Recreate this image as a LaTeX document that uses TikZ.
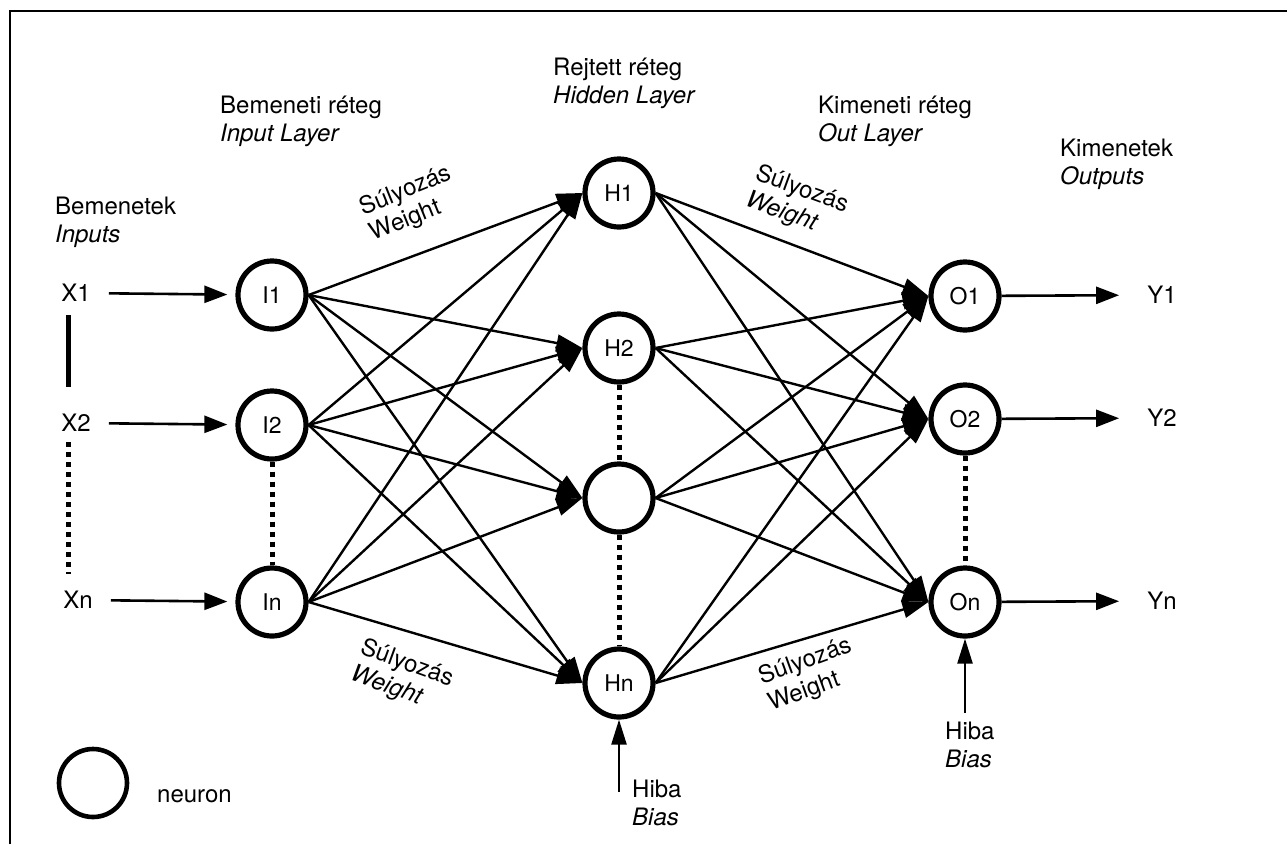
\documentclass[tikz,border=0pt]{standalone}
\usepackage{fontspec}
\setmainfont{TeX Gyre Heros}
\usetikzlibrary{arrows.meta}

\begin{document}
\begin{tikzpicture}[
  x=10pt, y=-10pt,
  font=\fontsize{24}{28}\selectfont,
  every node/.style={inner sep=0pt},
  neuron/.style = {circle, draw, line width=5.2pt, minimum size=68pt,
                   font=\fontsize{23}{28}\selectfont},
  legnd/.style  = {circle, draw, line width=4.6pt, minimum size=68pt},
  lab/.style    = {align=left, anchor=west},
  wlab/.style   = {align=left},
  wgt/.style    = {line width=2.4pt, -{Triangle[length=26pt, width=17pt]}},
  side/.style   = {line width=2.6pt, -{Triangle[length=23pt, width=17pt]}},
  bias/.style   = {line width=2.4pt, -{Triangle[length=25pt, width=15pt]}},
  dots/.style   = {line width=5pt, dash pattern=on 5pt off 5pt}
]
\useasboundingbox (0,0) rectangle (128.7, 84.4);
\draw[line width=1.5pt] (1.0, 84.4) -- (1.0, 1.1) -- (128.7, 1.1);

% layer titles
\node[lab] (inTitle)  at (5.5, 22.2)  {Bemenetek \\ \textit{Inputs}};
\node[lab] (ilTitle)  at (22.0, 12.1) {Bemeneti réteg \\ \textit{Input Layer}};
\node[lab] (hlTitle)  at (55.3, 8.3)  {Rejtett réteg \\ \textit{Hidden Layer}};
\node[lab] (olTitle)  at (81.8, 12.1) {Kimeneti réteg \\ \textit{Out Layer}};
\node[lab] (outTitle) at (106.0, 16.4) {Kimenetek \\ \textit{Outputs}};

% neurons
\node[neuron] (i1) at (27.2, 29.5) {I1};
\node[neuron] (i2) at (27.2, 42.5) {I2};
\node[neuron] (ik) at (27.2, 60.2) {In};
\node[neuron] (h1) at (61.9, 19.3) {H1};
\node[neuron] (h2) at (61.9, 34.8) {H2};
\node[neuron] (h3) at (61.9, 49.8) {};
\node[neuron] (hk) at (61.9, 68.3) {Hn};
\node[neuron] (o1) at (96.5, 29.6) {O1};
\node[neuron] (o2) at (96.5, 41.9) {O2};
\node[neuron] (ok) at (96.5, 60.2) {On};

% inputs and outputs
\node (x1) at (7.6, 29.3) {X1};
\node (x2) at (7.6, 42.3) {X2};
\node (xk) at (7.8, 60.0) {Xn};
\node (y1) at (116.2, 29.5) {Y1};
\node (y2) at (116.2, 41.8) {Y2};
\node (yk) at (116.2, 60.1) {Yn};

\draw[side, shorten <=18pt, shorten >=8pt] (x1) -- (i1);
\draw[side, shorten <=18pt, shorten >=8pt] (x2) -- (i2);
\draw[side, shorten <=18pt, shorten >=8pt] (xk) -- (ik);
\draw[side, shorten >=28pt] (o1) -- (y1);
\draw[side, shorten >=28pt] (o2) -- (y2);
\draw[side, shorten >=28pt] (ok) -- (yk);

\coordinate (barTop) at (6.8, 31.5);
\coordinate (barBot) at (6.8, 38.7);
\draw[line width=5pt] (barTop) -- (barBot);
\coordinate (dotTop) at (6.8, 44.2);
\coordinate (dotBot) at (6.8, 57.4);
\draw[dots] (dotTop) -- (dotBot);

\draw[dots] (i2.south) -- (ik.north);
\draw[dots] (h2.south) -- (h3.north);
\draw[dots] (h3.south) -- (hk.north);
\draw[dots] (o2.south) -- (ok.north);

% input layer -> hidden layer
\draw[wgt] (i1.east) -- (h1.west);
\draw[wgt] (i1.east) -- (h2.west);
\draw[wgt] (i1.east) -- (h3.west);
\draw[wgt] (i1.east) -- (hk.west);
\draw[wgt] (i2.east) -- (h1.west);
\draw[wgt] (i2.east) -- (h2.west);
\draw[wgt] (i2.east) -- (h3.west);
\draw[wgt] (i2.east) -- (hk.west);
\draw[wgt] (ik.east) -- (h1.west);
\draw[wgt] (ik.east) -- (h2.west);
\draw[wgt] (ik.east) -- (h3.west);
\draw[wgt] (ik.east) -- (hk.west);

% hidden layer -> output layer
\draw[wgt] (h1.east) -- (o1.west);
\draw[wgt] (h1.east) -- (o2.west);
\draw[wgt] (h1.east) -- (ok.west);
\draw[wgt] (h2.east) -- (o1.west);
\draw[wgt] (h2.east) -- (o2.west);
\draw[wgt] (h2.east) -- (ok.west);
\draw[wgt] (h3.east) -- (o1.west);
\draw[wgt] (h3.east) -- (o2.west);
\draw[wgt] (h3.east) -- (ok.west);
\draw[wgt] (hk.east) -- (o1.west);
\draw[wgt] (hk.east) -- (o2.west);
\draw[wgt] (hk.east) -- (ok.west);

% weight labels
\node[wlab, rotate=22]  (wTopL) at (41.1, 20.4) {Súlyozás \\ Weight};
\node[wlab, rotate=-20] (wTopR) at (79.7, 20.3) {Súlyozás \\ \textit{Weight}};
\node[wlab, rotate=-20] (wBotL) at (40.2, 67.7) {Súlyozás \\ \textit{Weight}};
\node[wlab, rotate=20]  (wBotR) at (81.0, 67.5) {Súlyozás \\ Weight};

% bias
\coordinate (hBias) at (61.9, 79.2);
\draw[bias] (hBias) -- (hk.south);
\node[lab] (hBiasLbl) at (63.2, 80.3) {Hiba \\ \textit{Bias}};
\coordinate (oBias) at (96.5, 71.3);
\draw[bias] (oBias) -- (ok.south);
\node[lab] (oBiasLbl) at (94.5, 74.5) {Hiba \\ \textit{Bias}};

% legend
\node[legnd] (legCirc) at (9.3, 78.3) {};
\node[anchor=base west] (legTxt) at (15.7, 80.2) {neuron};
\end{tikzpicture}
\end{document}
